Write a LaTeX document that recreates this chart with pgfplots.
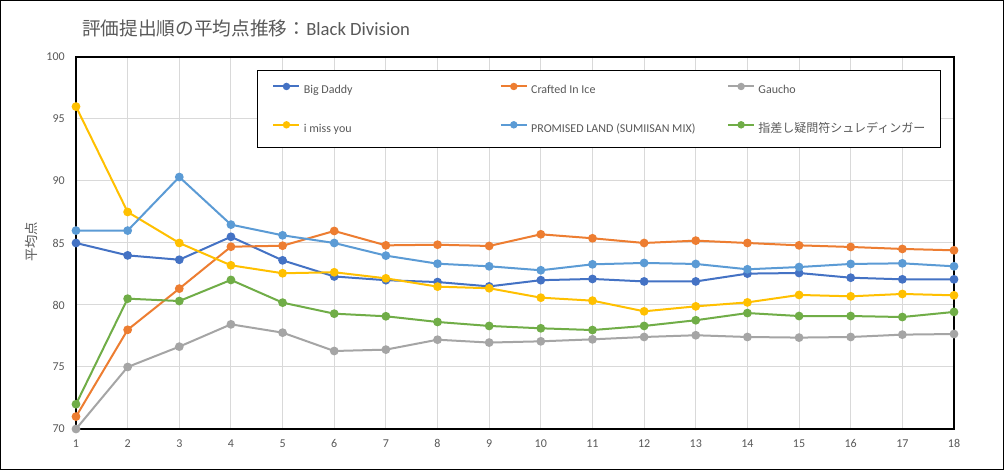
\documentclass[border=0pt]{standalone}
\usepackage{fontspec}
\setmainfont{Carlito}
\newfontfamily\jp{Noto Sans CJK JP}
\usepackage{pgfplots}
\pgfplotsset{compat=1.18}
\definecolor{cBD}{HTML}{4472C4}
\definecolor{cCI}{HTML}{ED7D31}
\definecolor{cGA}{HTML}{A5A5A5}
\definecolor{cIM}{HTML}{FFC000}
\definecolor{cPL}{HTML}{5B9BD5}
\definecolor{cSH}{HTML}{70AD47}
\definecolor{txt}{HTML}{595959}
\definecolor{grd}{HTML}{D9D9D9}
\begin{document}
\begin{tikzpicture}
\useasboundingbox (0,0) rectangle (753pt,352.5pt);
\fill[white] (0,0) rectangle (753pt,352.5pt);
\draw[black, line width=0.75pt] (0.375pt,0.375pt) rectangle (752.625pt,352.125pt);
\node[anchor=base west, inner sep=0pt, font=\fontsize{14}{16}\selectfont, text=txt] at (61.5pt,325.5pt) {{\jp 評価提出順の平均点推移：}Black Division};
\begin{axis}[
  at={(57pt,30.75pt)}, anchor=south west,
  scale only axis, width=658.5pt, height=279pt,
  xmin=1, xmax=18, ymin=70, ymax=100,
  xtick={1,...,18}, ytick={70,75,...,100},
  grid=major, major grid style={grd, line width=0.75pt},
  axis line style={black, line width=1.5pt},
  tick style={draw=none},
  clip=false,
  ticklabel style={font=\fontsize{9}{11}\selectfont, text=txt},
  /pgf/number format/assume math mode=true,
  xticklabel style={anchor=north, inner sep=0pt, yshift=-7.9pt},
  yticklabel style={anchor=east, inner sep=0pt, xshift=-8.25pt},
  ylabel={\jp 平均点},
  ylabel style={at={(axis description cs:-0.0505,0.5027)}, anchor=center, font=\fontsize{10}{12}\selectfont, text=txt},
  legend columns=3,
  legend cell align=left,
  legend image code/.code={\draw[mark repeat=2,mark phase=2,#1,mark size=2pt] plot coordinates {(0pt,3pt) (9.75pt,3pt) (19.5pt,3pt)};},
  legend style={at={(0.2065,0.9642)}, anchor=north west, draw=black, line width=0.75pt, fill=white,
    inner xsep=11pt, inner ysep=9.75pt, row sep=19.75pt,
    font=\fontsize{9}{11}\selectfont, text=txt,
    nodes={inner sep=0pt, text height=6.5pt, text depth=1.5pt},
    /tikz/every odd column/.append style={column sep=2.5pt}},
]
\addplot[color=cBD, line width=1.5pt, mark=*, mark size=2.5pt] coordinates {
(1,85) (2,84.0) (3,83.65) (4,85.5) (5,83.6) (6,82.3) (7,82.0) (8,81.85) (9,81.5)
(10,82.0) (11,82.1) (12,81.9) (13,81.9) (14,82.53) (15,82.58) (16,82.2) (17,82.07) (18,82.07)};
\addlegendentry{\makebox[147pt][l]{Big Daddy}}
\addplot[color=cCI, line width=1.5pt, mark=*, mark size=2.5pt] coordinates {
(1,71) (2,78) (3,81.32) (4,84.7) (5,84.78) (6,85.97) (7,84.81) (8,84.86) (9,84.76)
(10,85.7) (11,85.38) (12,85.0) (13,85.19) (14,85.0) (15,84.81) (16,84.68) (17,84.52) (18,84.41)};
\addlegendentry{\makebox[147pt][l]{Crafted In Ice}}
\addplot[color=cGA, line width=1.5pt, mark=*, mark size=2.5pt] coordinates {
(1,70) (2,75) (3,76.64) (4,78.44) (5,77.77) (6,76.29) (7,76.40) (8,77.2) (9,76.97)
(10,77.07) (11,77.23) (12,77.42) (13,77.56) (14,77.42) (15,77.37) (16,77.42) (17,77.61) (18,77.66)};
\addlegendentry{Gaucho}
\addplot[color=cIM, line width=1.5pt, mark=*, mark size=2.5pt] coordinates {
(1,96) (2,87.5) (3,85.0) (4,83.2) (5,82.56) (6,82.64) (7,82.15) (8,81.48) (9,81.35)
(10,80.59) (11,80.35) (12,79.49) (13,79.89) (14,80.21) (15,80.81) (16,80.7) (17,80.89) (18,80.78)};
\addlegendentry{\makebox[147pt][l]{i miss you}}
\addplot[color=cPL, line width=1.5pt, mark=*, mark size=2.5pt] coordinates {
(1,86) (2,86) (3,90.32) (4,86.48) (5,85.62) (6,85.0) (7,83.98) (8,83.33) (9,83.12)
(10,82.8) (11,83.28) (12,83.39) (13,83.31) (14,82.88) (15,83.06) (16,83.31) (17,83.36) (18,83.12)};
\addlegendentry{\makebox[147pt][l]{PROMISED LAND (SUMIISAN MIX)}}
\addplot[color=cSH, line width=1.5pt, mark=*, mark size=2.5pt] coordinates {
(1,72) (2,80.51) (3,80.32) (4,82.02) (5,80.19) (6,79.3) (7,79.09) (8,78.63) (9,78.31)
(10,78.12) (11,77.98) (12,78.31) (13,78.77) (14,79.35) (15,79.11) (16,79.11) (17,79.03) (18,79.44)};
\addlegendentry{{\jp 指差し疑問符シュレディンガー}}
\end{axis}
\end{tikzpicture}
\end{document}
